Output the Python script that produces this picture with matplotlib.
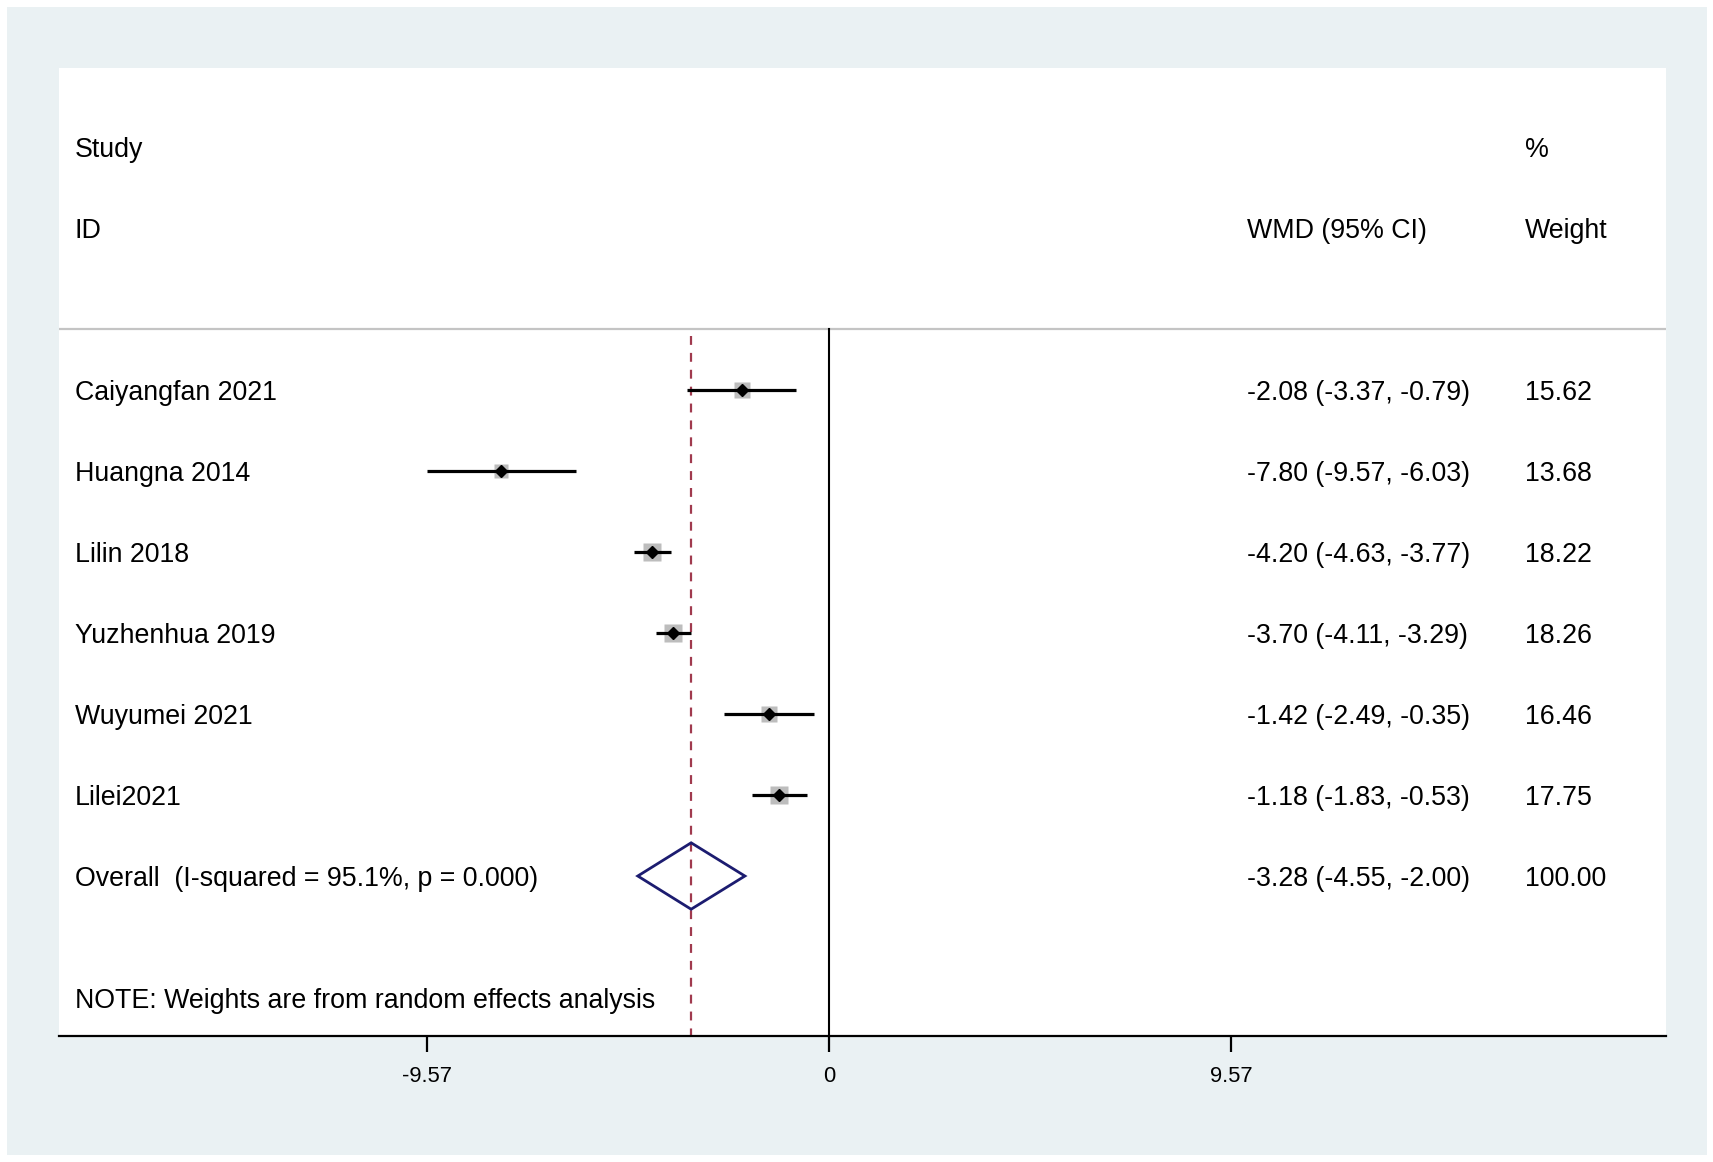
import numpy as np
import matplotlib.pyplot as plt
from matplotlib.patches import Rectangle, Polygon

plt.rcParams['font.family'] = ['Liberation Sans', 'DejaVu Sans']

studies = ['Caiyangfan 2021', 'Huangna 2014', 'Lilin 2018', 'Yuzhenhua 2019',
           'Wuyumei 2021', 'Lilei2021']
wmd = [-2.08, -7.80, -4.20, -3.70, -1.42, -1.18]
lower = [-3.37, -9.57, -4.63, -4.11, -2.49, -1.83]
upper = [-0.79, -6.03, -3.77, -3.29, -0.35, -0.53]
weights = [15.62, 13.68, 18.22, 18.26, 16.46, 17.75]

overall_label = 'Overall  (I-squared = 95.1%, p = 0.000)'
overall = [-3.28, -4.55, -2.00]
note = 'NOTE: Weights are from random effects analysis'
xticks = [-9.57, 0, 9.57]
xticklabels = ['-9.57', '0', '9.57']

W, H = 1713, 1162
fig = plt.figure(figsize=(W / 100, H / 100), dpi=100)
fig.patch.set_facecolor('white')
fig.patches.append(Rectangle((7 / W, 7 / H), 1700 / W, 1148 / H, transform=fig.transFigure,
                             facecolor='#eaf1f3', edgecolor='none', zorder=-10))

ax = fig.add_axes([59 / W, (H - 1036) / H, (1666 - 59) / W, (1036 - 68) / H])
ax.set_facecolor('white')
ax.set_xlim(-18.33, 19.93)
ax.set_ylim(7.975, -3.975)

fs = 19.3
va = 'center_baseline'
x_id, x_ci, x_w = -17.95, 9.95, 16.57

# header
ax.text(x_id, -3, 'Study', fontsize=fs, va=va)
ax.text(x_id, -2, 'ID', fontsize=fs, va=va)
ax.text(x_ci, -2, 'WMD (95% CI)', fontsize=fs, va=va)
ax.text(x_w, -3, '%', fontsize=fs, va=va)
ax.text(x_w, -2, 'Weight', fontsize=fs, va=va)
ax.axhline(-0.75, color='#c4c4c4', lw=1.6)

# reference lines
ax.plot([0, 0], [-0.75, 7.975], color='black', lw=1.5)
ax.plot([overall[0], overall[0]], [-0.67, 7.975], color='#a03a4e', lw=1.6,
        dashes=(4, 3.6))

# studies
for i, (s, m, lo, hi, w) in enumerate(zip(studies, wmd, lower, upper, weights)):
    ax.plot(m, i, marker='s', ms=11.5 * np.sqrt(w / 15.62), color='#bdbdbd',
            mec='none', zorder=3)
    ax.plot([lo, hi], [i, i], color='black', lw=2.3, solid_capstyle='butt', zorder=4)
    ax.plot(m, i, marker='D', ms=6.0, color='black', zorder=5)
    ax.text(x_id, i, s, fontsize=fs, va=va)
    ax.text(x_ci, i, f'{m:.2f} ({lo:.2f}, {hi:.2f})', fontsize=fs, va=va)
    ax.text(x_w, i, f'{w:.2f}', fontsize=fs, va=va)

# overall diamond
r = len(studies)
ax.add_patch(Polygon([[overall[1], r], [overall[0], r - 0.41], [overall[2], r],
                      [overall[0], r + 0.41]], closed=True, facecolor='none',
                     edgecolor='#1c1c70', lw=2, zorder=5))
ax.text(x_id, r, overall_label, fontsize=fs, va=va)
ax.text(x_ci, r, f'{overall[0]:.2f} ({overall[1]:.2f}, {overall[2]:.2f})',
        fontsize=fs, va=va)
ax.text(x_w, r, '100.00', fontsize=fs, va=va)

ax.text(x_id, 7.5, note, fontsize=fs, va=va)

for sp in ['top', 'left', 'right']:
    ax.spines[sp].set_visible(False)
ax.spines['bottom'].set_linewidth(1.6)
ax.set_yticks([])
ax.set_xticks(xticks)
ax.set_xticklabels(xticklabels, fontsize=15.8)
ax.tick_params(axis='x', length=11.5, width=1.6, pad=10)

fig.savefig('out.png', dpi=100)
